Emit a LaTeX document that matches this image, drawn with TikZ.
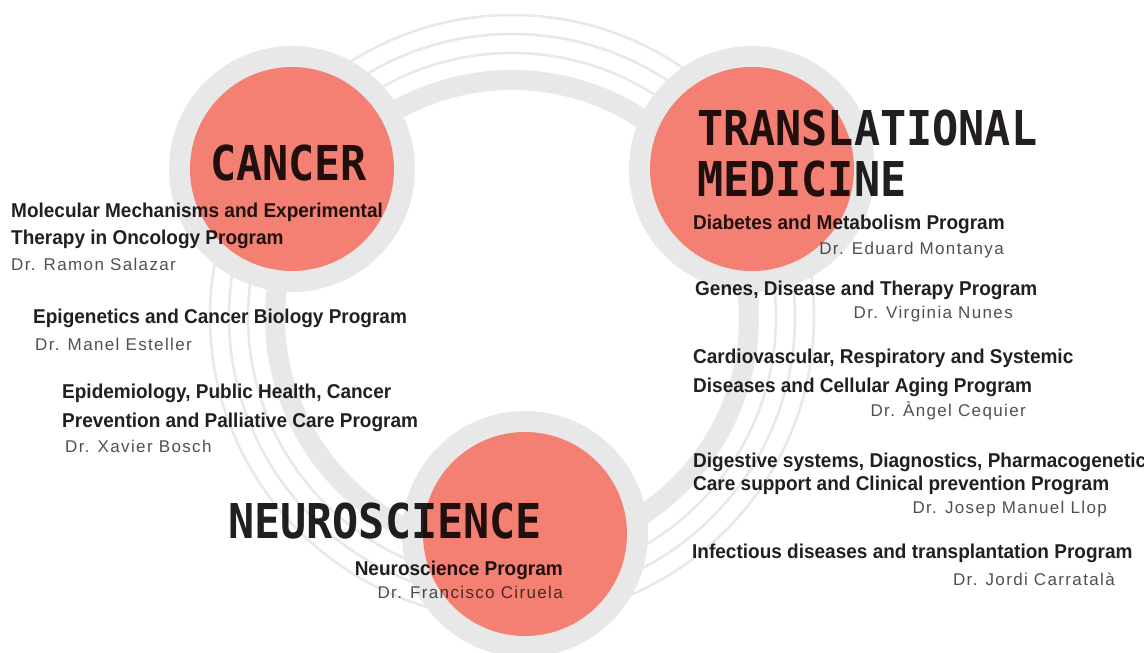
\documentclass[tikz,border=0pt]{standalone}
\usepackage{fontspec}
\setmainfont{Liberation Sans}
\newfontfamily\headfont{DejaVu Sans Mono}[FakeStretch=0.905]
\newfontfamily\progfont{Liberation Sans}[FakeStretch=0.95]
\newfontfamily\namefont{Liberation Sans}[LetterSpace=8]
\definecolor{salmon}{HTML}{F38072}
\definecolor{ringgray}{HTML}{E8E8E8}
\definecolor{inkdark}{HTML}{231F20}
\definecolor{namegray}{HTML}{505050}
\tikzset{
  head/.style={inner sep=0pt, font=\headfont\bfseries\fontsize{48}{48}\selectfont, text=inkdark},
  prog/.style={inner sep=0pt, font=\progfont\bfseries\fontsize{20}{24}\selectfont, text=inkdark},
  person/.style={inner sep=0pt, font=\namefont\fontsize{17}{20}\selectfont, text=namegray},
  thinring/.style={draw=ringgray, line width=2.5pt},
  band/.style={draw=ringgray, line width=20pt},
  halo/.style={fill=ringgray},
  core/.style={fill=salmon},
}
\begin{document}
\begin{tikzpicture}[x=1pt,y=-1pt]
\useasboundingbox (0,0) rectangle (1144,653);
% big ring
\coordinate (ringc) at (512,317);
\draw[thinring] (ringc) circle[radius=264pt];
\draw[thinring] (ringc) circle[radius=283pt];
\draw[thinring] (ringc) circle[radius=302pt];
\draw[band] (ringc) circle[radius=237pt];
% the three hubs
\coordinate (cc) at (292,169);
\coordinate (tc) at (752,169);
\coordinate (nc) at (525,534);
\foreach \c in {cc,tc,nc}{
  \fill[halo] (\c) circle[radius=123pt];
  \fill[core] (\c) circle[radius=102pt];
}
\begin{scope}[blend mode=multiply]
% headings
\node[head, anchor=base] (cancer) at (288.5,180) {CANCER};
\node[head, anchor=base west] (transl) at (697,145) {TRANSLATIONAL};
\node[head, anchor=base west] (medic) at (697,196) {MEDICINE};
\node[head, anchor=base west] (neuro) at (228,538) {NEUROSCIENCE};
% cancer programs
\node[prog, anchor=base west] (m1a) at (11,217) {Molecular Mechanisms and Experimental};
\node[prog, anchor=base west] (m1b) at (11,244) {Therapy in Oncology Program};
\node[person, anchor=base west] (n1) at (11,270) {Dr. Ramon Salazar};
\node[prog, anchor=base west] (m2) at (33,323) {Epigenetics and Cancer Biology Program};
\node[person, anchor=base west] (n2) at (35,350) {Dr. Manel Esteller};
\node[prog, anchor=base west] (m3a) at (62,398) {Epidemiology, Public Health, Cancer};
\node[prog, anchor=base west] (m3b) at (62,427) {Prevention and Palliative Care Program};
\node[person, anchor=base west] (n3) at (65,452) {Dr. Xavier Bosch};
% translational programs
\node[prog, anchor=base west] (t1) at (693,229) {Diabetes and Metabolism Program};
\node[person, anchor=base east] (d1) at (1004,254) {Dr. Eduard Montanya};
\node[prog, anchor=base west] (t2) at (695,295) {Genes, Disease and Therapy Program};
\node[person, anchor=base east] (d2) at (1013,318) {Dr. Virginia Nunes};
\node[prog, anchor=base west] (t3a) at (693,363) {Cardiovascular, Respiratory and Systemic};
\node[prog, anchor=base west] (t3b) at (693,392) {Diseases and Cellular Aging Program};
\node[person, anchor=base east] (d3) at (1026,416) {Dr. Àngel Cequier};
\node[prog, anchor=base west] (t4a) at (693,467) {Digestive systems, Diagnostics, Pharmacogenetic};
\node[prog, anchor=base west] (t4b) at (693,490) {Care support and Clinical prevention Program};
\node[person, anchor=base east] (d4) at (1107,513) {Dr. Josep Manuel Llop};
\node[prog, anchor=base west] (t5) at (692,558) {Infectious diseases and transplantation Program};
\node[person, anchor=base east] (d5) at (1115,585) {Dr. Jordi Carratalà};
% neuroscience program
\node[prog, anchor=base east] (np) at (563,575) {Neuroscience Program};
\node[person, anchor=base east] (nd) at (563,598) {Dr. Francisco Ciruela};
\end{scope}
\end{tikzpicture}
\end{document}
